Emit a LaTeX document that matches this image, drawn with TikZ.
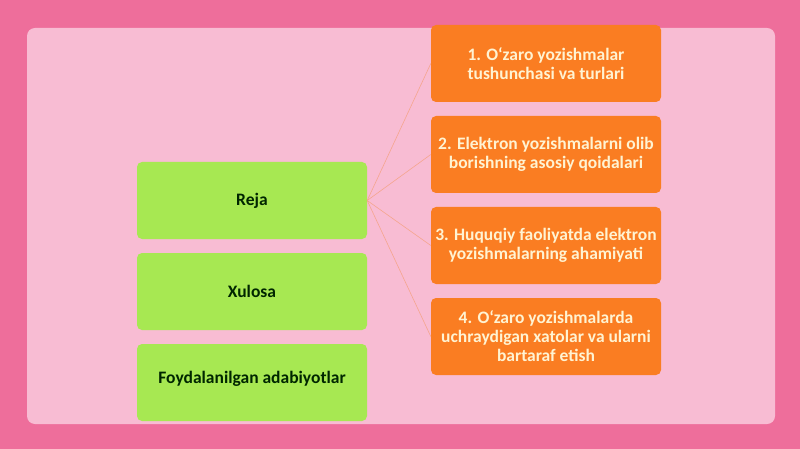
\documentclass[tikz,border=0pt]{standalone}
\usepackage{fontspec}
\setmainfont{Carlito}
\definecolor{bgpink}{HTML}{EE6E9B}
\definecolor{panelpink}{HTML}{F8BCD3}
\definecolor{limegreen}{HTML}{A7E852}
\definecolor{topicorange}{HTML}{FA7D22}
\definecolor{paleyellow}{HTML}{FFF3D2}
\definecolor{linkorange}{HTML}{F5A58E}

\begin{document}
\begin{tikzpicture}[x=1pt,y=-1pt]
\tikzstyle{plan} = [fill=limegreen, rounded corners=5pt, minimum width=230pt, minimum height=77pt, inner sep=0pt, font=\bfseries\fontsize{17.5}{19}\selectfont, text=black!85!green];
\tikzstyle{topic} = [fill=topicorange, rounded corners=5pt, minimum width=230pt, minimum height=77pt, inner sep=0pt, align=center, font=\bfseries\fontsize{17.5}{19}\selectfont, text=paleyellow];
\tikzstyle{link} = [draw=linkorange, line width=0.6pt];
% background and panel
\fill[bgpink] (0,0) rectangle (800,449);
\useasboundingbox (0,0) rectangle (800,449);
\fill[panelpink, rounded corners=8pt] (27,28) rectangle (775,424);
% left column
\node[plan] (reja) at (252,200.5) {Reja};
\node[plan] (xulosa) at (252,291.5) {Xulosa};
\node[plan] (adab) at (252,382.5) {\raisebox{11pt}{Foydalanilgan adabiyotlar}};
% right column
\node[topic] (t1) at (546,63.5) {1. O`zaro yozishmalar\\tushunchasi va turlari};
\node[topic] (t2) at (546,154.5) {2. Elektron yozishmalarni olib\\borishning asosiy qoidalari};
\node[topic] (t3) at (546,245.5) {3. Huquqiy faoliyatda elektron\\yozishmalarning ahamiyati};
\node[topic] (t4) at (546,336.5) {4. O`zaro yozishmalarda\\uchraydigan xatolar va ularni\\bartaraf etish};
\draw[link] (reja.east) -- (t1.west);
\draw[link] (reja.east) -- (t2.west);
\draw[link] (reja.east) -- (t3.west);
\draw[link] (reja.east) -- (t4.west);
\end{tikzpicture}
\end{document}
